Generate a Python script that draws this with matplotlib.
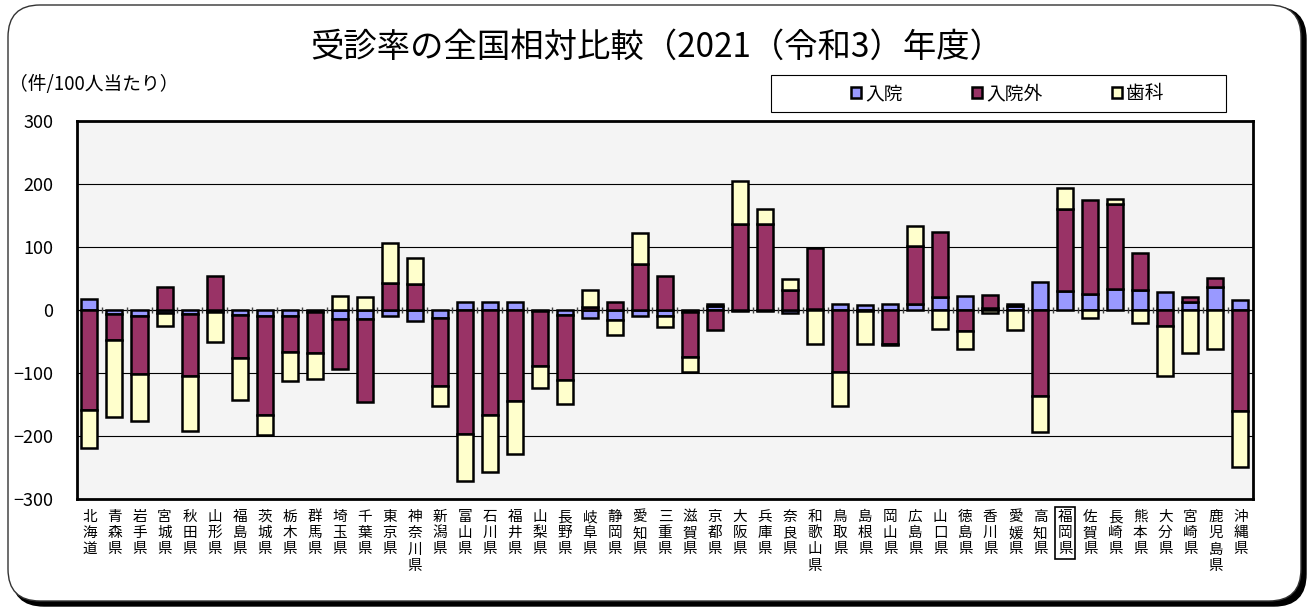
import numpy as np
import matplotlib
matplotlib.use("Agg")
import matplotlib.pyplot as plt
from matplotlib.patches import FancyBboxPatch, Rectangle

plt.rcParams['font.family'] = ['Noto Sans CJK JP', 'DejaVu Sans']

prefs = ['北海道', '青森県', '岩手県', '宮城県', '秋田県', '山形県', '福島県', '茨城県',
         '栃木県', '群馬県', '埼玉県', '千葉県', '東京県', '神奈川県', '新潟県', '富山県',
         '石川県', '福井県', '山梨県', '長野県', '岐阜県', '静岡県', '愛知県', '三重県',
         '滋賀県', '京都県', '大阪県', '兵庫県', '奈良県', '和歌山県', '鳥取県', '島根県',
         '岡山県', '広島県', '山口県', '徳島県', '香川県', '愛媛県', '高知県', '福岡県',
         '佐賀県', '長崎県', '熊本県', '大分県', '宮崎県', '鹿児島県', '沖縄県']

# 入院
inpatient = [18, -6, -9, -5, -7, -3, -8, -9, -10, -3, -14, -15, -10, -17, -12, 12,
             13, 12, -1, -8, -13, -16, -9, -9, -3, 6, -1, -1, -5, 1, 9, 8,
             10, 10, 20, 23, 3, 7, 44, 30, 26, 33, 32, 29, 13, 37, 16]
# 入院外
outpatient = [-158, -42, -93, 37, -98, 54, -68, -157, -57, -65, -80, -131, 43, 41, -108, -197,
              -167, -144, -88, -103, 5, 13, 73, 54, -71, -32, 137, 137, 32, 98, -99, -1,
              -54, 91, 104, -33, 21, 3, -136, 130, 149, 135, 58, -26, 8, 14, -161]
# 歯科
dental = [-61, -122, -75, -20, -87, -48, -67, -32, -46, -41, 22, 20, 64, 41, -32, -75,
          -90, -84, -35, -39, 27, -23, 49, -18, -25, 3, 68, 24, 17, -54, -53, -53,
          -2, 32, -30, -29, -5, -32, -57, 33, -13, 8, -20, -78, -69, -62, -88]

series = [('入院', inpatient, '#9999FF'),
          ('入院外', outpatient, '#993366'),
          ('歯科', dental, '#FFFFCC')]

fig = plt.figure(figsize=(13.13, 6.10), dpi=100)

# rounded outer frame with a small shadow
shadow = FancyBboxPatch((0.12, 0.04), 12.94, 5.99, boxstyle="round,pad=0,rounding_size=0.32",
                        transform=fig.dpi_scale_trans, facecolor='black', edgecolor='black',
                        lw=1, zorder=-10)
frame = FancyBboxPatch((0.08, 0.09), 12.93, 5.96, boxstyle="round,pad=0,rounding_size=0.32",
                       transform=fig.dpi_scale_trans, facecolor='white', edgecolor='#333333',
                       lw=1, zorder=-9)
fig.patches.extend([shadow, frame])

ax = fig.add_axes([0.0586, 0.182, 0.8957, 0.6196])
ax.set_facecolor('#F4F4F4')

x = np.arange(len(prefs))
pos_bottom = np.zeros(len(prefs))
neg_bottom = np.zeros(len(prefs))
for name, vals, color in series:
    v = np.array(vals, dtype=float)
    bottom = np.where(v >= 0, pos_bottom, neg_bottom)
    ax.bar(x, v, 0.64, bottom=bottom, color=color, edgecolor='black', linewidth=1.8,
           label=name, zorder=3)
    pos_bottom = pos_bottom + np.where(v >= 0, v, 0)
    neg_bottom = neg_bottom + np.where(v < 0, v, 0)

ax.axhline(0, color='black', lw=0.8, zorder=2)
ax.plot(x[:-1] + 0.5, np.zeros(len(x) - 1), linestyle='none', marker='|',
        markersize=5, color='#444444', zorder=2)

ax.set_xlim(-0.5, len(prefs) - 0.5)
ax.set_ylim(-300, 300)
ax.set_yticks(np.arange(-300, 301, 100))
ax.yaxis.grid(True, color='black', lw=0.8)
ax.set_axisbelow(True)
ax.tick_params(axis='y', length=0, pad=17, labelsize=13)
ax.set_xticks(x)
ax.set_xticklabels(['\n'.join(p) for p in prefs], fontsize=10.5, va='top')
ax.tick_params(axis='x', length=0, pad=8)
for s in ax.spines.values():
    s.set_linewidth(2)

# highlight 福岡県
for lab in ax.get_xticklabels():
    if lab.get_text() == '\n'.join('福岡県'):
        lab.set_bbox(dict(facecolor='white', edgecolor='black', lw=1.2, pad=2))

fig.text(0.5, 0.922, '受診率の全国相対比較（2021（令和3）年度）', ha='center', va='center',
         fontsize=24)
fig.text(0.007, 0.862, '（件/100人当たり）', ha='left', va='center', fontsize=13.5)

# legend box
fig.patches.append(Rectangle((0.587, 0.816), 0.347, 0.061, transform=fig.transFigure,
                             facecolor='white', edgecolor='black', lw=0.8, zorder=1))
leg = fig.legend(loc='center', bbox_to_anchor=(0.767, 0.8465), ncol=3, fontsize=13.5,
                 handlelength=0.55, handleheight=0.55, handletextpad=0.2, columnspacing=3.7,
                 frameon=False, borderaxespad=0)

fig.savefig('out.png', dpi=100)
plt.close(fig)
